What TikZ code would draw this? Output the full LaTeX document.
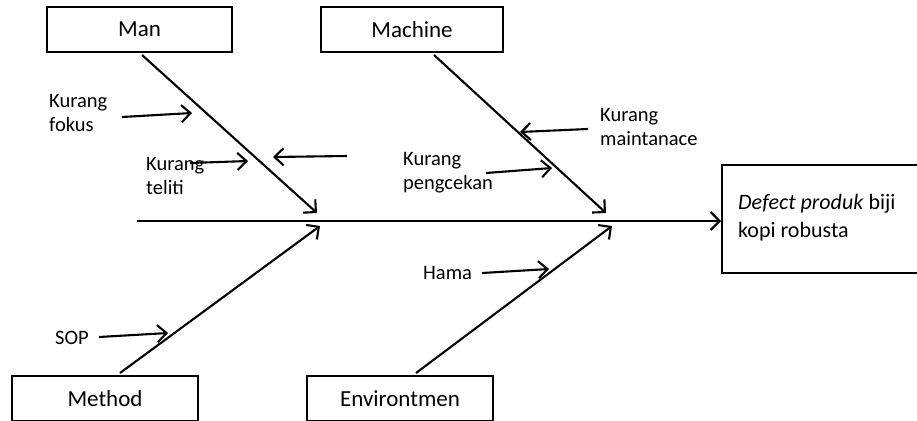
\documentclass[tikz,border=0pt]{standalone}
\usepackage{fontspec}
\setmainfont{Carlito}
\usetikzlibrary{arrows.meta}
\begin{document}
\begin{tikzpicture}[x=1pt,y=-1pt,
  box/.style={draw,line width=1.5pt,minimum width=#1,minimum height=45pt,inner sep=0pt,font=\fontsize{23}{27}\selectfont},
  lbl/.style={anchor=west,align=left,inner sep=0pt,font=\fontsize{20.5}{24}\selectfont},
  bone/.style={line width=2.1pt,-{Straight Barb[length=9pt,width=18pt,line width=2.1pt]}},
  sub/.style={line width=2.1pt,-{Straight Barb[length=9pt,width=17pt,line width=2.1pt]}}]
\useasboundingbox (0,0) rectangle (917,420);
\clip (0,0) rectangle (917,420);
% category boxes
\node[box=185pt] (man) at (139.5,29.5) {Man};
\node[box=182pt] (machine) at (412,29.5) {Machine};
\node[box=186pt] (method) at (105,398.5) {Method};
\node[box=186pt] (env) at (400,398.5) {Environtmen};
% effect box
\node[draw,line width=1.5pt,minimum width=214pt,minimum height=108pt,anchor=north west,inner sep=0pt] (effect) at (721,164) {};
\node[lbl,font=\fontsize{22}{28}\selectfont] (efftext) at (738,218) {\textit{Defect produk} biji\\kopi robusta};
% spine
\coordinate (sp) at (137,221);
\draw[bone] (sp) -- (sp -| effect.west);
% bones
\coordinate (manS) at (142,55);   \coordinate (manE) at (317,213);
\coordinate (macS) at (434,55);   \coordinate (macE) at (606,213);
\coordinate (metS) at (120,373);  \coordinate (metE) at (320,226);
\coordinate (envS) at (416,373);  \coordinate (envE) at (612,226);
\draw[bone] (manS) -- (manE);
\draw[bone] (macS) -- (macE);
\draw[bone] (metS) -- (metE);
\draw[bone] (envS) -- (envE);
% labels
\node[lbl] (fokus) at (49,112.5) {Kurang\\fokus};
\node[lbl] (teliti) at (146,176) {Kurang\\teliti};
\node[lbl] (maint) at (600,126.5) {Kurang\\maintanace};
\node[lbl] (cek) at (403,173) {Kurang\\pengcekan};
\node[lbl] (sop) at (55,338) {SOP};
\node[lbl] (hama) at (423,273) {Hama};
% sub-cause arrows
\coordinate (fokusT) at (122,117);  \coordinate (fokusH) at (192,113);
\coordinate (telitiT) at (190,163); \coordinate (telitiH) at (248,161);
\coordinate (freeT) at (347,156);   \coordinate (freeH) at (273,157);
\coordinate (maintT) at (588,129);  \coordinate (maintH) at (520,132);
\coordinate (cekT) at (486,173);    \coordinate (cekH) at (552,168);
\coordinate (sopT) at (99,337);     \coordinate (sopH) at (168,333);
\coordinate (hamaT) at (482,273);   \coordinate (hamaH) at (549,269);
\draw[sub] (fokusT) -- (fokusH);
\draw[sub] (telitiT) -- (telitiH);
\draw[sub] (freeT) -- (freeH);
\draw[sub] (maintT) -- (maintH);
\draw[sub] (cekT) -- (cekH);
\draw[sub] (sopT) -- (sopH);
\draw[sub] (hamaT) -- (hamaH);
\end{tikzpicture}
\end{document}
